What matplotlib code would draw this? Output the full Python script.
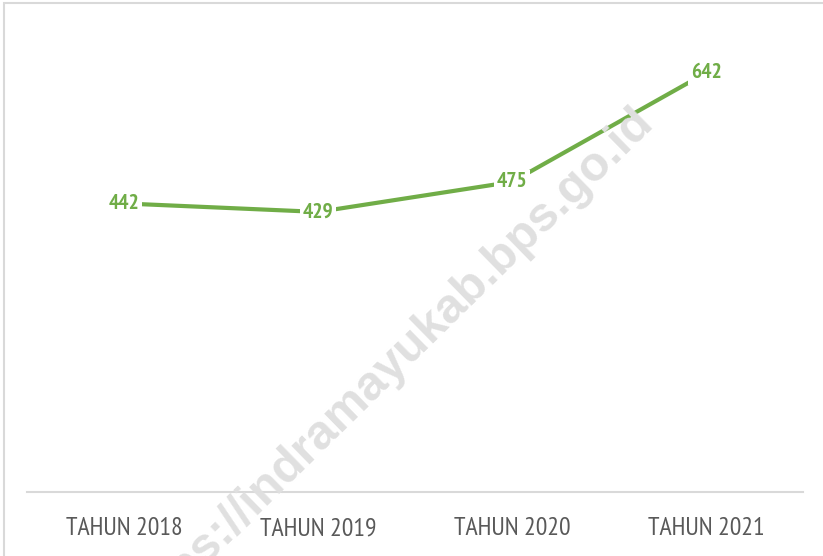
import matplotlib.pyplot as plt
from matplotlib.patches import Rectangle

years = ["TAHUN 2018", "TAHUN 2019", "TAHUN 2020", "TAHUN 2021"]
values = [442, 429, 475, 642]

green = "#70AD47"
grey_text = "#595959"
narrow = "PT Sans Narrow"

fig = plt.figure(figsize=(8.23, 5.56), dpi=100)
ax = fig.add_axes([27 / 823, 64 / 556, 776 / 823, 457 / 556])

# chart frame (only top and left edges visible in the crop)
fig.patches.append(Rectangle((4 / 823, -0.1), 1.2, (553 / 556) + 0.1,
                             transform=fig.transFigure, fill=False,
                             edgecolor="#D9D9D9", linewidth=1.5))

# watermark
fig.text(388 / 823, 1 - 367 / 556, "https://indramayukab.bps.go.id",
         rotation=44.4, rotation_mode="anchor", fontsize=35, fontweight="bold",
         family="Liberation Sans", color="#E0E0E0", ha="center", va="center", zorder=0)

x = range(len(years))
ax.plot(x, values, color=green, linewidth=3, solid_capstyle="butt", zorder=2)

for xi, v in zip(x, values):
    ax.text(xi, v, str(v), ha="center", va="center", fontsize=15.5,
            fontweight="bold", family=narrow, color=green, zorder=3,
            bbox=dict(boxstyle="square,pad=0.12", facecolor="white", edgecolor="none"))

ax.set_xlim(-0.5, 3.5)
ax.set_ylim(0, 700)
ax.set_xticks(list(x))
ax.set_xticklabels(years, fontsize=18.5, family=narrow, color=grey_text)
ax.tick_params(axis="x", length=0, pad=18)
ax.set_yticks([])
for side in ["top", "left", "right"]:
    ax.spines[side].set_visible(False)
ax.spines["bottom"].set_color("#D9D9D9")
ax.spines["bottom"].set_linewidth(1.5)
ax.patch.set_alpha(0)

fig.savefig("out.png", dpi=100)
